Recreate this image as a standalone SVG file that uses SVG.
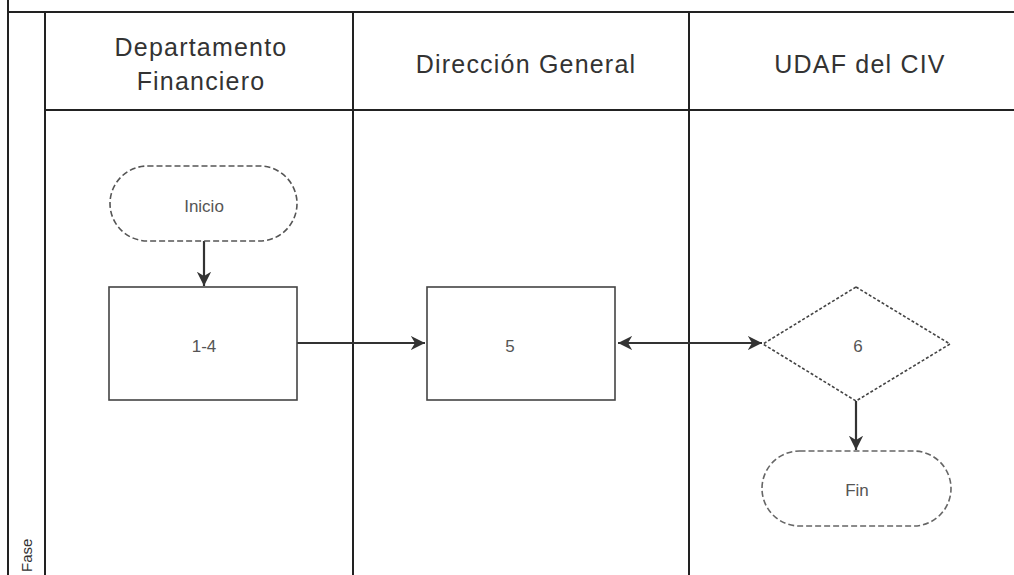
<svg xmlns="http://www.w3.org/2000/svg" width="1014" height="575" viewBox="0 0 1014 575">
<style>
.frame{stroke:#222;stroke-width:2;fill:none}
.hdr{font-family:"Liberation Sans",Arial,sans-serif;font-size:25px;fill:#333;text-anchor:middle;letter-spacing:1.2px}
.lbl{font-family:"Liberation Sans",Arial,sans-serif;font-size:17px;fill:#555;text-anchor:middle}
.box{fill:#fff;stroke:#444;stroke-width:1.6}
.dash{fill:#fff;stroke:#555;stroke-width:1.6;stroke-dasharray:6 3}
.dot{fill:#fff;stroke:#444;stroke-width:1.6;stroke-dasharray:3 2}
.conn{stroke:#333;stroke-width:2.2;fill:none}
</style>
<defs>
<marker id="ah" viewBox="0 0 10 10" refX="10" refY="5" markerWidth="6.5" markerHeight="6.5" orient="auto-start-reverse" markerUnits="strokeWidth">
<path d="M0,0 L10,5 L0,10 L3,5 z" fill="#333"/>
</marker>
</defs>
<rect width="1014" height="575" fill="#fff"/>
<g id="pool">
<line class="frame" x1="8" y1="0" x2="8" y2="575"/>
<line class="frame" x1="8" y1="12" x2="1014" y2="12"/>
<line class="frame" x1="45" y1="12" x2="45" y2="575"/>
<line class="frame" x1="45" y1="110" x2="1014" y2="110"/>
<line class="frame" x1="353" y1="12" x2="353" y2="575"/>
<line class="frame" x1="689" y1="12" x2="689" y2="575"/>
<text class="hdr" x="201" y="56">Departamento</text>
<text class="hdr" x="201" y="90">Financiero</text>
<text class="hdr" x="526" y="73">Dirección General</text>
<text class="hdr" x="860" y="73">UDAF del CIV</text>
<text transform="translate(32,572) rotate(-90)" style="font-family:'Liberation Sans',Arial,sans-serif;font-size:15px;fill:#333">Fase</text>
</g>
<g id="connectors">
<line class="conn" x1="204" y1="241" x2="204" y2="286" marker-end="url(#ah)"/>
<line class="conn" x1="297" y1="343" x2="425" y2="343" marker-end="url(#ah)"/>
<line class="conn" x1="618" y1="343" x2="762" y2="343" marker-start="url(#ah)" marker-end="url(#ah)"/>
<line class="conn" x1="856" y1="401" x2="856" y2="450" marker-end="url(#ah)"/>
</g>
<g id="inicio">
<rect class="dash" x="110" y="166" width="187" height="75" rx="37.5"/>
<text class="lbl" x="204" y="212">Inicio</text>
</g>
<g id="n1-4">
<rect class="box" x="109" y="287" width="188" height="113"/>
<text class="lbl" x="204" y="352">1-4</text>
</g>
<g id="n5">
<rect class="box" x="427" y="287" width="188" height="113"/>
<text class="lbl" x="510" y="352">5</text>
</g>
<g id="n6">
<polygon class="dot" points="856,287 950,344 856,401 763,344"/>
<text class="lbl" x="858" y="352">6</text>
</g>
<g id="fin">
<rect class="dash" x="762" y="451" width="189" height="75" rx="37.5" style="stroke:#666"/>
<text class="lbl" x="857" y="496">Fin</text>
</g>
</svg>
